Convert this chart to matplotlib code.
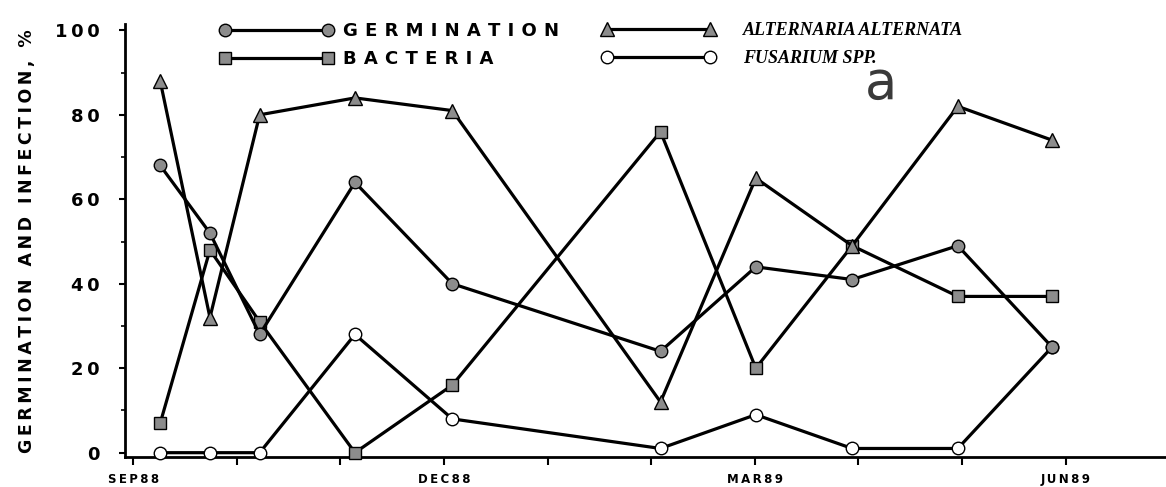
import matplotlib
matplotlib.use("Agg")
import matplotlib.pyplot as plt
from matplotlib.ticker import FixedLocator, NullFormatter

# Sampling dates, in months counted from 1 September 1988
months = [0.26, 0.74, 1.22, 2.14, 3.08, 5.09, 6.01, 6.94, 7.96, 8.87]

germination = [68, 52, 28, 64, 40, 24, 44, 41, 49, 25]
bacteria = [7, 48, 31, 0, 16, 76, 20, 49, 37, 37]
alternaria = [88, 32, 80, 84, 81, 12, 65, 49, 82, 74]
fusarium = [0, 0, 0, 28, 8, 1, 9, 1, 1, 25]

month_ticks = [0, 1, 2, 3, 4, 5, 6, 7, 8, 9]
month_labels = {0: "SEP88", 3: "DEC88", 6: "MAR89", 9: "JUN89"}

y_major = [0, 20, 40, 60, 80, 100]
y_minor = [10, 30, 50, 70, 90]

THIN = "\u2009"


def spaced(s, gap=THIN):
    """Letter-spaced version of a label."""
    return gap.join(s)


W, H = 1166, 487
fig = plt.figure(figsize=(W / 100, H / 100), dpi=100)
ax = fig.add_axes([125 / W, (H - 456.7) / H, 1 - 125 / W, (456.7 - 24) / H])

GREY = "#8c8c8c"
LW = 2.3
common = dict(color="black", lw=LW, markeredgecolor="black", markeredgewidth=1.0,
              clip_on=False)

l_f, = ax.plot(months, fusarium, marker="o", markersize=9, markerfacecolor="white",
               zorder=3, **common)
l_b, = ax.plot(months, bacteria, marker="s", markersize=8.5, markerfacecolor=GREY,
               zorder=4, **common)
l_a, = ax.plot(months, alternaria, marker="^", markersize=10, markerfacecolor=GREY,
               zorder=4, **common)
l_g, = ax.plot(months, germination, marker="o", markersize=9, markerfacecolor=GREY,
               zorder=5, **common)

ax.set_xlim(-0.08, 9.97)
ax.set_ylim(-0.95, 101.5)

for side in ("top", "right"):
    ax.spines[side].set_visible(False)
for side in ("left", "bottom"):
    ax.spines[side].set_linewidth(2.0)

ax.set_yticks(y_major)
ax.set_yticklabels([spaced(str(v)) for v in y_major])
ax.yaxis.set_minor_locator(FixedLocator(y_minor))
ax.yaxis.set_minor_formatter(NullFormatter())
ax.tick_params(axis="y", which="major", direction="out", length=4, width=1.5, pad=14,
               labelsize=13)
ax.tick_params(axis="y", which="minor", direction="out", length=3, width=1.2)
for lab in ax.get_yticklabels():
    lab.set_fontweight("bold")

ax.set_xticks(month_ticks)
ax.set_xticklabels([spaced(month_labels[m]) if m in month_labels else ""
                    for m in month_ticks])
ax.tick_params(axis="x", direction="out", length=6, width=1.5, pad=6, labelsize=8.5)
for lab in ax.get_xticklabels():
    lab.set_fontweight("bold")

fig.text(27 / W, (H - 241) / H, spaced("GERMINATION AND INFECTION, %"),
         rotation=90, ha="center", va="center", fontsize=12.5, fontweight="bold")

# Legend, left column
leg1 = ax.legend([l_g, l_b], [spaced("GERMINATION", THIN * 2), spaced("BACTERIA", THIN * 2)],
                 loc="upper left", bbox_to_anchor=(220 / W, (H - 22) / H),
                 bbox_transform=fig.transFigure, frameon=False, numpoints=2,
                 handlelength=6.3, handletextpad=0.5, labelspacing=0.55,
                 borderpad=0, borderaxespad=0,
                 prop=dict(family="DejaVu Sans", weight="bold", size=13))
ax.add_artist(leg1)

# Legend, right column
leg2 = ax.legend([l_a, l_f], ["ALTERNARIA ALTERNATA", "FUSARIUM SPP."],
                 loc="upper left", bbox_to_anchor=(602 / W, (H - 22) / H),
                 bbox_transform=fig.transFigure, frameon=False, numpoints=2,
                 handlelength=6.3, handletextpad=1.5, labelspacing=0.6,
                 borderpad=0, borderaxespad=0,
                 prop=dict(family="Liberation Serif", weight="bold", style="italic",
                           size=13))

fig.text(881 / W, (H - 99) / H, "a", ha="center", va="baseline",
         family=["Liberation Sans Narrow", "DejaVu Sans"], fontsize=38,
         color="#3a3a3a")

fig.savefig("out.png", dpi=100)
